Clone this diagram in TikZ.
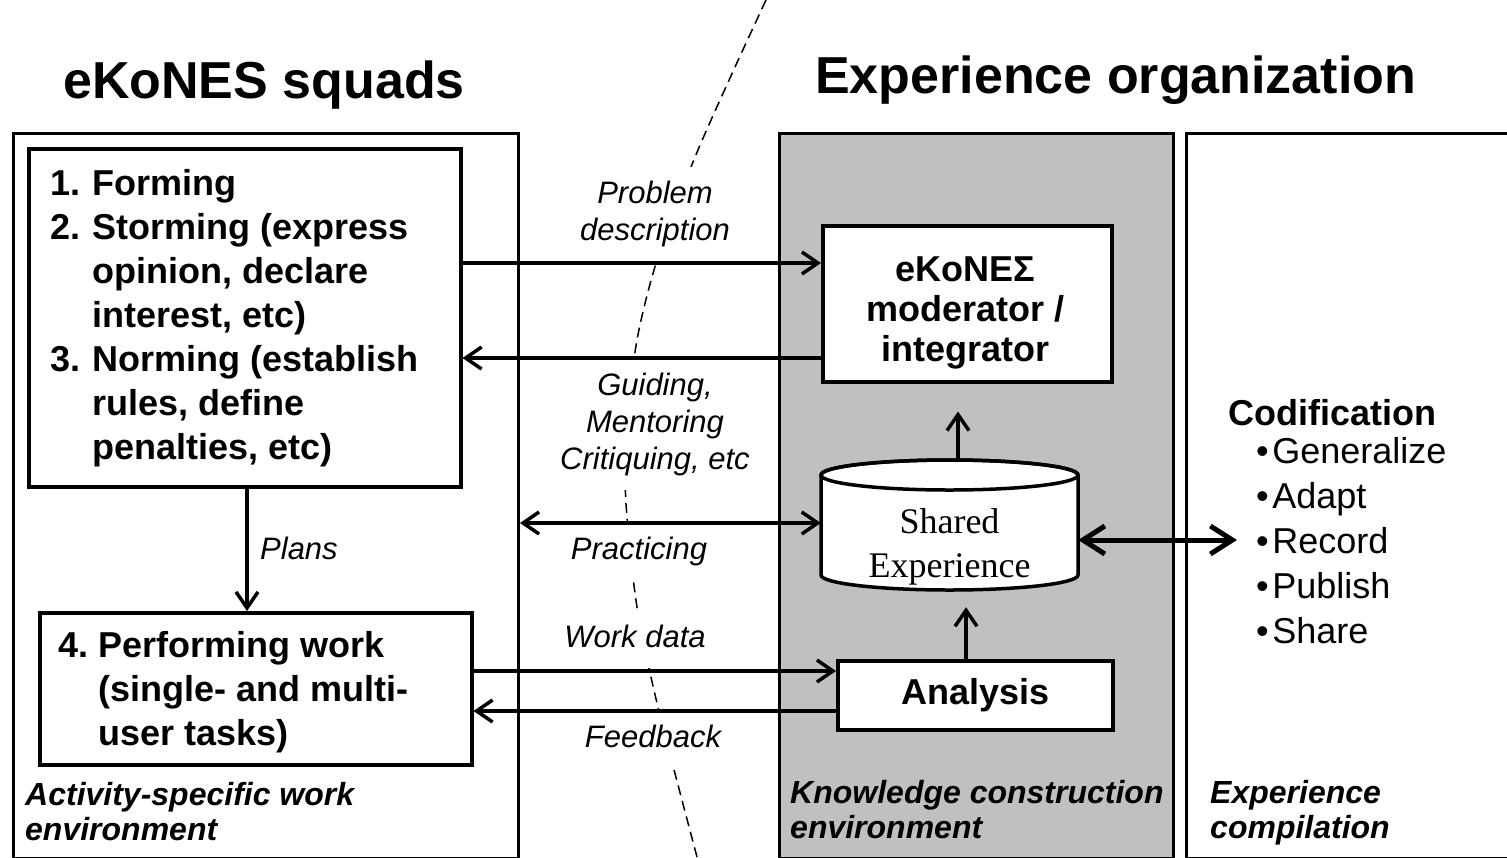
\documentclass[tikz,border=0pt]{standalone}
\usepackage{fontspec}
\setmainfont{Liberation Sans}
\newfontfamily\serifface{Liberation Serif}
\usetikzlibrary{arrows.meta}
\definecolor{panelgray}{RGB}{192,192,192}
\begin{document}
\begin{tikzpicture}[x=1pt,y=-1pt,
  panel/.style={draw, line width=3pt, anchor=north west, inner sep=0pt, minimum height=725pt},
  box/.style={draw, line width=3.5pt, fill=white, anchor=north west, inner sep=0pt},
  lab/.style={fill=white, inner sep=10pt, anchor=base, font=\fontsize{31}{37}\selectfont\itshape},
  txt/.style={inner sep=0pt, anchor=base west},
  bodytxt/.style={font=\fontsize{36}{44}\selectfont\bfseries},
  envtxt/.style={font=\fontsize{32}{35}\selectfont\bfseries\itshape},
  arr/.style={line width=3.5pt, -{Straight Barb[length=16pt,width=22pt]}},
  dbl/.style={line width=3.5pt, {Straight Barb[length=16pt,width=22pt]}-{Straight Barb[length=16pt,width=22pt]}},
  bigarr/.style={line width=5pt, {Straight Barb[length=22pt,width=28pt]}-{Straight Barb[length=22pt,width=28pt]}},
  dashcurve/.style={line width=1.5pt, dash pattern=on 10pt off 6pt}
]
\useasboundingbox (0,0) rectangle (1507,857);

% titles
\node[txt, font=\fontsize{52}{60}\selectfont\bfseries] (title1) at (63,98) {eKoNES squads};
\node[txt, font=\fontsize{52}{60}\selectfont\bfseries] (title2) at (815,93) {Experience organization};

% panels
\node[panel, fill=white, minimum width=505pt] (lpanel) at (12,132) {};
\node[panel, fill=panelgray, minimum width=394pt] (gpanel) at (778,132) {};
\node[panel, fill=white, minimum width=330pt] (rpanel) at (1185,132) {};

% dashed boundary curve
\draw[dashcurve] plot[smooth] coordinates {(766,0) (730,78) (693,162) (657,260) (635,352) (626,470) (627,517) (637,607) (657,703) (697,857)};

% labels on the connectors
\node[lab] (lprob) at (655,203) {\begin{tabular}[t]{@{}c@{}}Problem\\description\end{tabular}};
\node[lab] (lguide) at (655,395) {\begin{tabular}[t]{@{}c@{}}Guiding,\\Mentoring\\Critiquing, etc\end{tabular}};
\node[lab] (lprac) at (639,559) {\begin{tabular}[t]{@{}c@{}}Practicing\end{tabular}};
\node[lab] (lwork) at (635,647) {\begin{tabular}[t]{@{}c@{}}Work data\end{tabular}};
\node[lab] (lfeed) at (653,747) {\begin{tabular}[t]{@{}c@{}}Feedback\end{tabular}};
\node[txt, font=\fontsize{31}{37}\selectfont\itshape] (lplans) at (260,559) {Plans};

% boxes
\node[box, minimum width=432pt, minimum height=338pt] (form) at (27,147) {};
\node[box, minimum width=432pt, minimum height=152pt] (perf) at (38,611) {};
\node[box, minimum width=289pt, minimum height=156pt] (mod) at (821,224) {};
\node[inner sep=0pt, anchor=base, font=\fontsize{36}{40}\selectfont\bfseries] (modtxt) at (965.5,281)
  {\begin{tabular}[t]{@{}c@{}}eKoNEΣ\\moderator /\\integrator\end{tabular}};
\node[box, minimum width=275pt, minimum height=69pt,
      font=\fontsize{36}{44}\selectfont\bfseries] (ana) at (836,659) {Analysis};

% cylinder
\node[inner sep=0pt, minimum width=257pt, minimum height=130pt] (cyl) at (949.5,525) {};
\draw[line width=3.5pt, fill=white] (821,475) -- (821,575)
  arc[start angle=180, end angle=0, x radius=128.5, y radius=15]
  -- (1078,475)
  arc[start angle=0, end angle=-180, x radius=128.5, y radius=15] -- cycle;
\draw[line width=3.5pt] (949.5,475) ellipse[x radius=128.5, y radius=15];
\node[inner sep=0pt, anchor=base, font=\fontsize{36}{44}\selectfont\serifface] (cyltxt) at (949.5,533)
  {\begin{tabular}[t]{@{}c@{}}Shared\\Experience\end{tabular}};

% box texts
\node[txt, bodytxt] (formtxt) at (50,195) {\begin{tabular}[t]{@{}p{42pt}@{}l@{}}
1. & Forming\\
2. & Storming (express\\
   & opinion, declare\\
   & interest, etc)\\
3. & Norming (establish\\
   & rules, define\\
   & penalties, etc)
\end{tabular}};
\node[txt, bodytxt] (perftxt) at (58,657) {\begin{tabular}[t]{@{}p{40pt}@{}l@{}}
4. & Performing work\\
   & (single- and multi-\\
   & user tasks)
\end{tabular}};

% codification
\node[txt, font=\fontsize{36}{44}\selectfont\bfseries] (codif) at (1228,425) {Codification};
\node[txt, font=\fontsize{36}{45}\selectfont] (clist) at (1256,463) {\begin{tabular}[t]{@{}l@{\hspace{3.5pt}}l@{}}
•&Generalize\\
•&Adapt\\
•&Record\\
•&Publish\\
•&Share
\end{tabular}};

% environment captions
\node[txt, envtxt] (env1) at (25,805) {\begin{tabular}[t]{@{}l@{}}Activity-specific work\\environment\end{tabular}};
\node[txt, envtxt] (env2) at (790,803) {\begin{tabular}[t]{@{}l@{}}Knowledge construction\\environment\end{tabular}};
\node[txt, envtxt] (env3) at (1210,803) {\begin{tabular}[t]{@{}l@{}}Experience\\compilation\end{tabular}};

% helper coordinates
\coordinate (yA) at (0,263);
\coordinate (yB) at (0,358);
\coordinate (yC) at (0,523);
\coordinate (yD) at (0,671);
\coordinate (yE) at (0,711);
\coordinate (yH) at (0,540);
\coordinate (xP) at (247,0);
\coordinate (xF) at (966,0);
\coordinate (xG) at (958,0);
\coordinate (rec) at (1237,540);

% connectors
\draw[arr] (form.east |- yA) -- (mod.west |- yA);
\draw[arr] (mod.west |- yB) -- (form.east |- yB);
\draw[dbl] (lpanel.east |- yC) -- (cyl.west |- yC);
\draw[arr] (perf.east |- yD) -- (ana.west |- yD);
\draw[arr] (ana.west |- yE) -- (perf.east |- yE);
\draw[arr] (form.south -| xP) -- (perf.north -| xP);
\draw[arr, shorten >=17pt] (ana.north -| xF) -- (cyl.south -| xF);
\draw[arr, shorten >=28pt] (cyl.north -| xG) -- (mod.south -| xG);
\draw[bigarr] (cyl.east |- yH) -- (rec);
\end{tikzpicture}
\end{document}
